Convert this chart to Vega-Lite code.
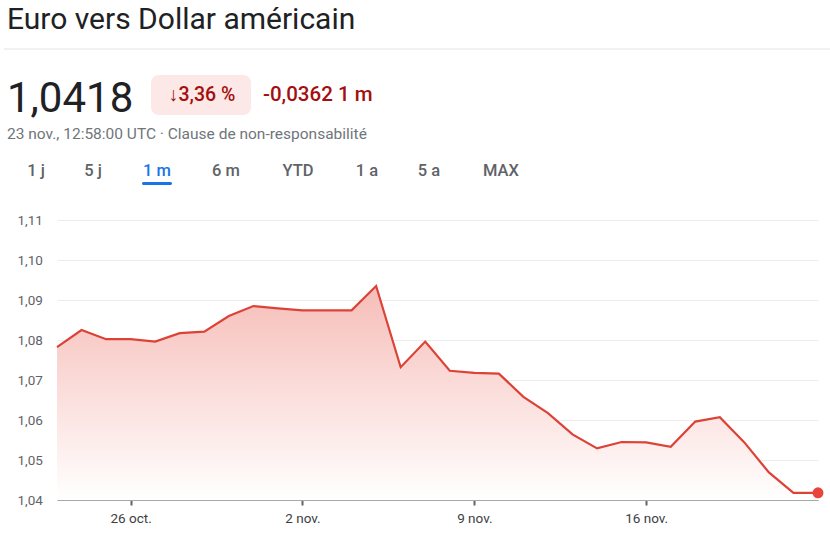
{
  "$schema": "https://vega.github.io/schema/vega-lite/v6.json",
  "width": 761,
  "height": 280,
  "autosize": {"type": "none"},
  "padding": {"left": 57, "top": 220, "right": 12, "bottom": 34},
  "background": "white",
  "config": {"font": "Roboto", "view": {"stroke": null}},
  "datasets": {
    "fx": [
      {"date": "2024-10-23", "rate": 1.0782},
      {"date": "2024-10-24", "rate": 1.0825},
      {"date": "2024-10-25", "rate": 1.0802},
      {"date": "2024-10-26", "rate": 1.0802},
      {"date": "2024-10-27", "rate": 1.0796},
      {"date": "2024-10-28", "rate": 1.0817},
      {"date": "2024-10-29", "rate": 1.0821},
      {"date": "2024-10-30", "rate": 1.0860},
      {"date": "2024-10-31", "rate": 1.0885},
      {"date": "2024-11-01", "rate": 1.0879},
      {"date": "2024-11-02", "rate": 1.0874},
      {"date": "2024-11-03", "rate": 1.0874},
      {"date": "2024-11-04", "rate": 1.0874},
      {"date": "2024-11-05", "rate": 1.0935},
      {"date": "2024-11-06", "rate": 1.0732},
      {"date": "2024-11-07", "rate": 1.0796},
      {"date": "2024-11-08", "rate": 1.0723},
      {"date": "2024-11-09", "rate": 1.0718},
      {"date": "2024-11-10", "rate": 1.0716},
      {"date": "2024-11-11", "rate": 1.0658},
      {"date": "2024-11-12", "rate": 1.0617},
      {"date": "2024-11-13", "rate": 1.0564},
      {"date": "2024-11-14", "rate": 1.0529},
      {"date": "2024-11-15", "rate": 1.0545},
      {"date": "2024-11-16", "rate": 1.0544},
      {"date": "2024-11-17", "rate": 1.0533},
      {"date": "2024-11-18", "rate": 1.0596},
      {"date": "2024-11-19", "rate": 1.0607},
      {"date": "2024-11-20", "rate": 1.0544},
      {"date": "2024-11-21", "rate": 1.0469},
      {"date": "2024-11-22", "rate": 1.0418},
      {"date": "2024-11-23", "rate": 1.0418}
    ]
  },
  "layer": [
    {
      "data": {"name": "fx"},
      "encoding": {
        "x": {
          "field": "date", "type": "temporal",
          "scale": {"type": "utc", "domain": [1729641600000, 1732320000000], "nice": false},
          "axis": {
            "values": [1729900800000, 1730505600000, 1731110400000, 1731715200000],
            "labelExpr": "utcdate(datum.value) + ' ' + (utcmonth(datum.value) == 9 ? 'oct.' : 'nov.')",
            "title": null, "grid": false,
            "domainColor": "#a8a8a8", "domainWidth": 1,
            "tickColor": "#5f6368", "tickWidth": 2, "tickSize": 5,
            "labelPadding": 6, "labelFontSize": 13.5, "labelColor": "#3c4043"
          }
        },
        "y": {
          "field": "rate", "type": "quantitative",
          "scale": {"domain": [1.04, 1.11], "zero": false, "nice": false},
          "axis": {
            "values": [1.04, 1.05, 1.06, 1.07, 1.08, 1.09, 1.10, 1.11],
            "labelExpr": "replace(format(datum.value, '.2f'), '.', ',')",
            "title": null, "domain": false, "ticks": false,
            "labelAlign": "left", "labelPadding": 40, "labelOverlap": false,
            "labelFontSize": 13.5, "labelColor": "#5f6368",
            "gridColor": "#ececec", "gridWidth": 1
          }
        }
      },
      "layer": [
        {
          "mark": {
            "type": "area",
            "fill": {
              "gradient": "linear", "x1": 0, "y1": 0, "x2": 0, "y2": 1,
              "stops": [
                {"offset": 0, "color": "#f6bdb8"},
                {"offset": 1, "color": "#ffffff"}
              ]
            }
          },
          "encoding": {"y2": {"datum": 1.04}}
        },
        {
          "mark": {"type": "line", "color": "#dc4236", "strokeWidth": 2.2}
        },
        {
          "transform": [
            {"window": [{"op": "row_number", "as": "r"}], "sort": [{"field": "date", "order": "descending"}]},
            {"filter": "datum.r == 1"}
          ],
          "mark": {"type": "point", "filled": true, "color": "#e8453c", "size": 120, "opacity": 1}
        }
      ]
    },
    {
      "data": {"values": [{}]},
      "mark": {"type": "text", "align": "left", "baseline": "alphabetic", "fontSize": 30, "color": "#202124"},
      "encoding": {"x": {"value": -50}, "y": {"value": -191}, "text": {"value": "Euro vers Dollar américain"}}
    },
    {
      "data": {"values": [{}]},
      "mark": {"type": "rule", "color": "#e3e3e3", "strokeWidth": 1},
      "encoding": {"x": {"value": -53}, "x2": {"value": 773}, "y": {"value": -171}}
    },
    {
      "data": {"values": [{}]},
      "mark": {"type": "text", "align": "left", "baseline": "alphabetic", "fontSize": 42, "color": "#202124"},
      "encoding": {"x": {"value": -50}, "y": {"value": -108}, "text": {"value": "1,0418"}}
    },
    {
      "data": {"values": [{}]},
      "mark": {"type": "rect", "cornerRadius": 8, "color": "#fce8e6"},
      "encoding": {"x": {"value": 94}, "x2": {"value": 194}, "y": {"value": -145}, "y2": {"value": -105}}
    },
    {
      "data": {"values": [{}]},
      "mark": {"type": "text", "align": "center", "baseline": "alphabetic", "fontSize": 19.5, "fontWeight": 500, "color": "#a50e0e"},
      "encoding": {"x": {"value": 145}, "y": {"value": -119}, "text": {"value": "↓3,36 %"}}
    },
    {
      "data": {"values": [{}]},
      "mark": {"type": "text", "align": "left", "baseline": "alphabetic", "fontSize": 20.5, "fontWeight": 500, "color": "#a50e0e"},
      "encoding": {"x": {"value": 206}, "y": {"value": -119}, "text": {"value": "-0,0362 1 m"}}
    },
    {
      "data": {"values": [{}]},
      "mark": {"type": "text", "align": "left", "baseline": "alphabetic", "fontSize": 15.5, "color": "#70757a"},
      "encoding": {"x": {"value": -50}, "y": {"value": -81}, "text": {"value": "23 nov., 12:58:00 UTC · Clause de non-responsabilité"}}
    },
    {
      "data": {"values": [{}]},
      "mark": {"type": "text", "align": "center", "baseline": "alphabetic", "fontSize": 16.5, "fontWeight": 500, "color": "#5f6368"},
      "encoding": {"x": {"value": -21}, "y": {"value": -44}, "text": {"value": "1 j"}}
    },
    {
      "data": {"values": [{}]},
      "mark": {"type": "text", "align": "center", "baseline": "alphabetic", "fontSize": 16.5, "fontWeight": 500, "color": "#5f6368"},
      "encoding": {"x": {"value": 36}, "y": {"value": -44}, "text": {"value": "5 j"}}
    },
    {
      "data": {"values": [{}]},
      "mark": {"type": "text", "align": "center", "baseline": "alphabetic", "fontSize": 16.5, "fontWeight": 500, "color": "#1a73e8"},
      "encoding": {"x": {"value": 100}, "y": {"value": -44}, "text": {"value": "1 m"}}
    },
    {
      "data": {"values": [{}]},
      "mark": {"type": "text", "align": "center", "baseline": "alphabetic", "fontSize": 16.5, "fontWeight": 500, "color": "#5f6368"},
      "encoding": {"x": {"value": 169}, "y": {"value": -44}, "text": {"value": "6 m"}}
    },
    {
      "data": {"values": [{}]},
      "mark": {"type": "text", "align": "center", "baseline": "alphabetic", "fontSize": 16.5, "fontWeight": 500, "color": "#5f6368"},
      "encoding": {"x": {"value": 241}, "y": {"value": -44}, "text": {"value": "YTD"}}
    },
    {
      "data": {"values": [{}]},
      "mark": {"type": "text", "align": "center", "baseline": "alphabetic", "fontSize": 16.5, "fontWeight": 500, "color": "#5f6368"},
      "encoding": {"x": {"value": 310}, "y": {"value": -44}, "text": {"value": "1 a"}}
    },
    {
      "data": {"values": [{}]},
      "mark": {"type": "text", "align": "center", "baseline": "alphabetic", "fontSize": 16.5, "fontWeight": 500, "color": "#5f6368"},
      "encoding": {"x": {"value": 372}, "y": {"value": -44}, "text": {"value": "5 a"}}
    },
    {
      "data": {"values": [{}]},
      "mark": {"type": "text", "align": "center", "baseline": "alphabetic", "fontSize": 16.5, "fontWeight": 500, "color": "#5f6368"},
      "encoding": {"x": {"value": 444}, "y": {"value": -44}, "text": {"value": "MAX"}}
    },
    {
      "data": {"values": [{}]},
      "mark": {"type": "rect", "cornerRadius": 1.5, "color": "#1a73e8"},
      "encoding": {"x": {"value": 85}, "x2": {"value": 115}, "y": {"value": -38}, "y2": {"value": -35}}
    }
  ]
}
